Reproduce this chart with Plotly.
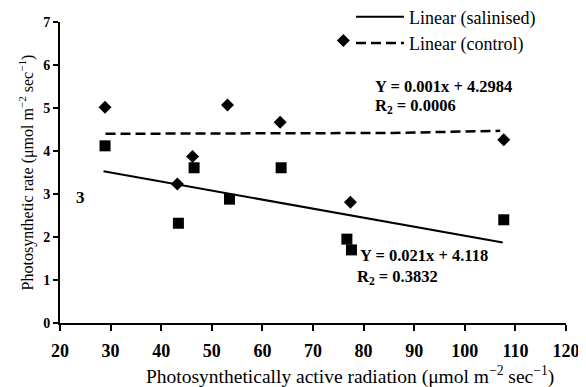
import plotly.graph_objects as go

# Data
sal_x = [28.9, 43.4, 46.5, 53.5, 63.7, 76.7, 77.6, 107.7]
sal_y = [4.12, 2.32, 3.61, 2.88, 3.61, 1.95, 1.70, 2.40]
ctl_x = [28.9, 43.2, 46.2, 53.1, 63.5, 76.0, 77.4, 107.7]
ctl_y = [5.02, 3.23, 3.87, 5.07, 4.67, 6.57, 2.81, 4.26]

sal_fit_x = [28.6, 107.5]
sal_fit_y = [3.53, 1.87]
ctl_fit_x = [29.0, 86.0, 107.0]
ctl_fit_y = [4.40, 4.42, 4.47]

x_ticks = [20, 30, 40, 50, 60, 70, 80, 90, 100, 110, 120]
y_ticks = [0, 1, 2, 3, 4, 5, 6, 7]

FONT = "Liberation Serif"

fig = go.Figure()
fig.add_trace(go.Scatter(x=sal_x, y=sal_y, mode="markers", showlegend=False,
                         marker=dict(symbol="square", size=11, color="black")))
fig.add_trace(go.Scatter(x=ctl_x, y=ctl_y, mode="markers", showlegend=False,
                         marker=dict(symbol="diamond", size=10, color="black")))
fig.add_trace(go.Scatter(x=sal_fit_x, y=sal_fit_y, mode="lines", name="Linear (salinised)",
                         line=dict(color="black", width=2)))
fig.add_trace(go.Scatter(x=ctl_fit_x, y=ctl_fit_y, mode="lines", name="Linear (control)",
                         line=dict(color="black", width=2.5, dash="10px,5px")))

annots = [
    (81.9, 5.49, "Y = 0.001x + 4.2984"),
    (81.9, 5.05, "R<sub>2</sub> = 0.0006"),
    (78.9, 1.56, "Y = 0.021x + 4.118"),
    (78.3, 1.07, "R<sub>2</sub> = 0.3832"),
]
for ax_, ay_, t in annots:
    fig.add_annotation(x=ax_, y=ay_, text=t, showarrow=False, xanchor="left", yanchor="middle",
                       font=dict(family=FONT, size=16.5, color="black", weight="bold"))
fig.add_annotation(x=24.0, y=2.93, text="3", showarrow=False, xanchor="center", yanchor="middle",
                   font=dict(family=FONT, size=17, color="black", weight="bold"))

# x-axis title (offset to the right of the plot centre, as in the reference)
fig.add_annotation(xref="paper", yref="paper", x=0.573, y=-0.173, xanchor="center", yanchor="middle",
                   text="Photosynthetically active radiation (μmol m<sup>−2</sup> sec<sup>−1</sup>)",
                   showarrow=False, font=dict(family=FONT, size=19.5, color="black"))

fig.update_layout(
    width=578, height=379,
    margin=dict(l=52, r=20, t=14, b=64, autoexpand=False),
    paper_bgcolor="white", plot_bgcolor="white",
    font=dict(family=FONT, color="black"),
    legend=dict(x=0.575, y=1.078, xanchor="left", yanchor="top", bgcolor="rgba(0,0,0,0)",
                font=dict(family=FONT, size=18, color="black"),
                itemwidth=48, tracegroupgap=0),
    xaxis=dict(range=[20, 120], tickvals=x_ticks, showgrid=False, zeroline=False,
               showline=True, linecolor="black", linewidth=2,
               ticks="outside", ticklen=6, tickwidth=2, tickcolor="black",
               tickfont=dict(family=FONT, size=18, weight="bold"), ticklabelstandoff=4),
    yaxis=dict(range=[0, 7], tickvals=y_ticks, showgrid=False, zeroline=False,
               showline=True, linecolor="black", linewidth=2,
               ticks="outside", ticklen=5, tickwidth=2, tickcolor="black",
               tickfont=dict(family=FONT, size=14, weight="bold"),
               title=dict(text="Photosynthetic rate (μmol m<sup>−2</sup> sec<sup>−1</sup>)",
                          font=dict(family=FONT, size=16), standoff=6)),
)

fig.write_html("out.html")
